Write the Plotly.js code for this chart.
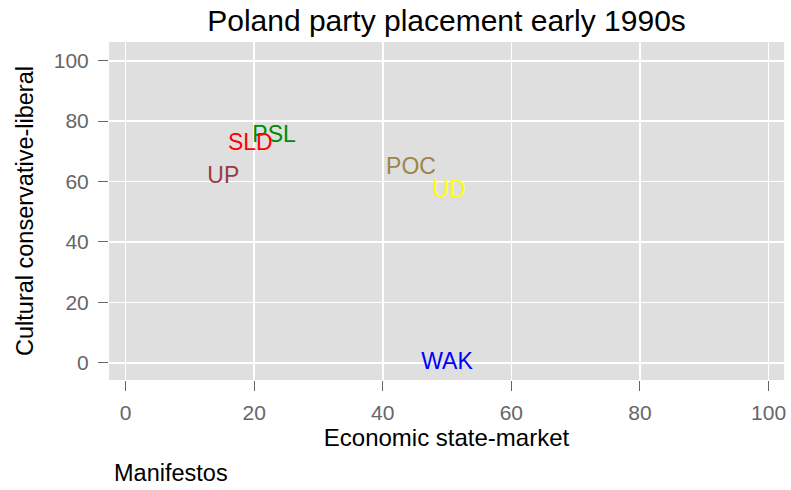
<!DOCTYPE html>
<html>
<head>
<meta charset="utf-8">
<script src="https://cdn.plot.ly/plotly-3.0.1.min.js"></script>
<style>html,body{margin:0;padding:0;background:#fff;}#chart{width:791px;height:490px;}</style>
</head>
<body>
<div id="chart"></div>
<script>
const parties = ["PSL", "SLD", "UP", "POC", "UD", "WAK"];
const economic = [23.1, 19.4, 15.2, 44.4, 50.3, 50.0];
const cultural = [75.0, 72.4, 61.5, 64.5, 56.9, 0.0];
const partyColors = ["#008B00", "#FF0000", "#983a42", "#9c8646", "#FFFF00", "#0000FF"];
const tickVals = [0, 20, 40, 60, 80, 100];
const tickText = ["0", "20", "40", "60", "80", "100"];

const FONT = "Liberation Sans, Arial, Helvetica, sans-serif";

const trace = {
  type: "scatter",
  mode: "text",
  x: economic,
  y: cultural,
  text: parties,
  textposition: "middle center",
  textfont: {family: FONT, size: 23, color: partyColors},
  hoverinfo: "skip",
  showlegend: false,
  cliponaxis: false
};

const axisCommon = {
  showgrid: true,
  gridcolor: "#ffffff",
  gridwidth: 1.6,
  zeroline: false,
  showline: false,
  ticks: "outside",
  ticklen: 10,
  tickwidth: 1,
  tickcolor: "#666666",
  tickfont: {family: FONT, size: 21, color: "#666666"},
  tickmode: "array",
  tickvals: tickVals,
  ticktext: tickText
};

const layout = {
  width: 791,
  height: 490,
  margin: {l: 109, r: 7, t: 42, b: 110},
  paper_bgcolor: "#ffffff",
  plot_bgcolor: "#dfdfdf",
  title: {
    text: "Poland party placement early 1990s",
    font: {family: FONT, size: 30, color: "#000000"},
    x: 0.5 * (109 + 784) / 791,
    xanchor: "center",
    xref: "container",
    y: 1 - 20 / 490,
    yanchor: "middle",
    yref: "container"
  },
  xaxis: Object.assign({}, axisCommon, {
    range: [-2.57, 102.4],
    title: {text: "Economic state-market", font: {family: FONT, size: 24, color: "#000000"}, standoff: 5},
    ticklabelstandoff: 4
  }),
  yaxis: Object.assign({}, axisCommon, {
    range: [-5.7, 106.2],
    title: {text: "Cultural conservative-liberal", font: {family: FONT, size: 23.5, color: "#000000"}, standoff: 13},
    ticklabelstandoff: 5
  }),
  annotations: [{
    text: "Manifestos",
    xref: "paper", yref: "paper",
    x: 3 / 675, y: (380 - 473) / 338,
    xanchor: "left", yanchor: "middle",
    showarrow: false,
    font: {family: FONT, size: 23.5, color: "#000000"}
  }]
};

Plotly.newPlot("chart", [trace], layout, {staticPlot: true, displayModeBar: false});
</script>
</body>
</html>
